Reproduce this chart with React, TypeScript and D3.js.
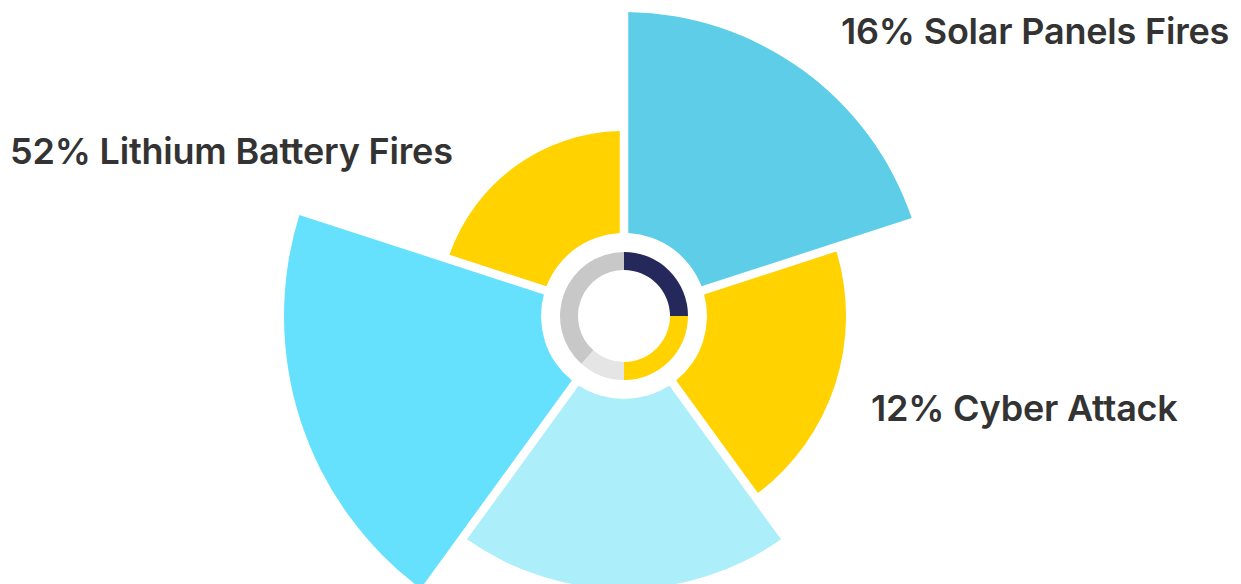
import React from "react";
import * as d3 from "d3";

// Polar-area slices (clockwise from 12 o'clock)
const sliceNames = ["Solar Panels Fires", "Cyber Attack", "Other A", "Other B", "Lithium Battery Fires"];
const sliceValues = [89.4, 65.3, 80.3, 100, 54.4];
const sliceColors = ["#5ECEE8", "#FFD200", "#ADEEFB", "#66E1FD", "#FFD200"];

// Centre ring
const ringValues = [25, 25, 11.6, 38.4];
const ringColors = ["#25285A", "#FFD200", "#E5E5E5", "#C8C8C8"];

// Labels
const labelTexts = ["16% Solar Panels Fires", "52% Lithium Battery Fires", "12% Cyber Attack"];

const W = 1241;
const H = 584;

export default function App() {
  const cx = 624;
  const cy = 316;
  const maxR = 340;
  const innerR = 83;

  const r = d3.scaleLinear().domain([0, d3.max(sliceValues) as number]).range([0, maxR]);
  const step = (2 * Math.PI) / sliceValues.length;

  const sliceArc = d3
    .arc<any>()
    .innerRadius(innerR)
    .outerRadius((d: any) => r(d.value))
    .startAngle((d: any) => d.i * step)
    .endAngle((d: any) => (d.i + 1) * step)
    .padAngle(0.085)
    .padRadius(100);

  const pie = d3.pie<number>().sort(null).value((d) => d);
  const ringArcs = pie(ringValues);
  const ringArc = d3.arc<any>().innerRadius(46).outerRadius(64);

  const labelPos = [
    { x: 841, y: 44 },
    { x: 10, y: 164 },
    { x: 871, y: 421 },
  ];

  return (
    <svg
      width={W}
      height={H}
      viewBox={`0 0 ${W} ${H}`}
      style={{ position: "absolute", left: 0, top: 0, display: "block", background: "#fff" }}
    >
      <g transform={`translate(${cx},${cy})`}>
        {sliceValues.map((v, i) => (
          <path key={sliceNames[i] + i} d={sliceArc({ value: v, i }) as string} fill={sliceColors[i]} />
        ))}
        {ringArcs.map((a, i) => (
          <path key={"ring" + i} d={ringArc(a) as string} fill={ringColors[i]} />
        ))}
      </g>
      {labelTexts.map((t, i) => (
        <text
          key={t}
          x={labelPos[i].x}
          y={labelPos[i].y}
          fontFamily="Inter, 'Noto Sans', sans-serif"
          fontWeight={600}
          fontSize={36}
          fill="#333333"
          letterSpacing={-0.2}
        >
          {t}
        </text>
      ))}
    </svg>
  );
}
